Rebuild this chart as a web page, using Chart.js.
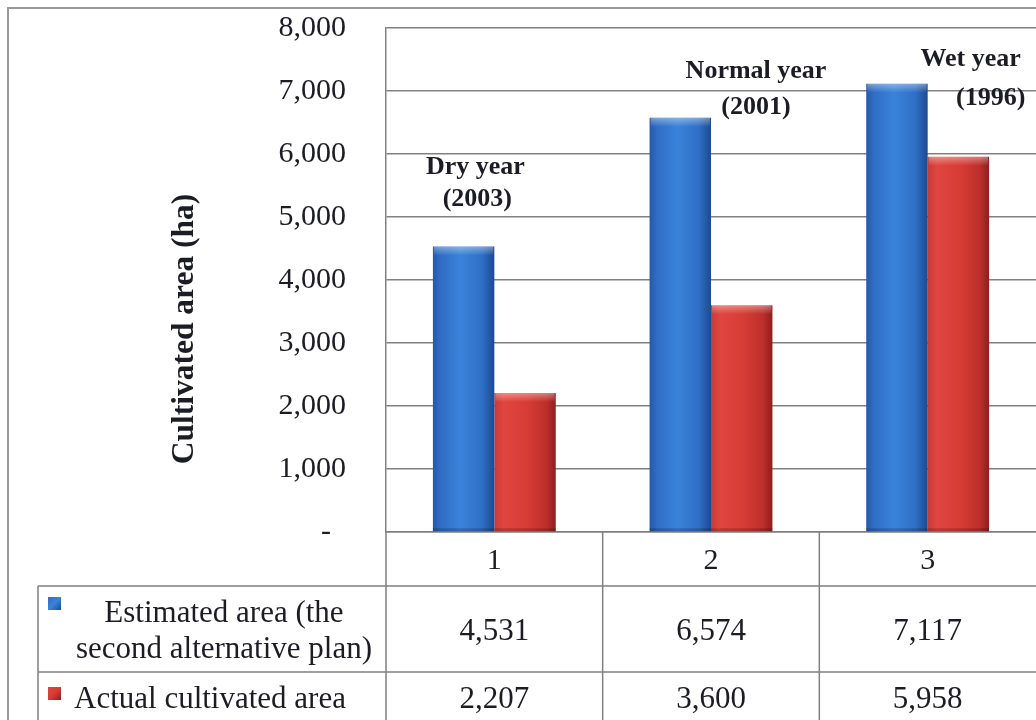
<!DOCTYPE html>
<html>
<head>
<meta charset="utf-8">
<title>Cultivated area</title>
<script src="https://cdn.jsdelivr.net/npm/chart.js@4.4.1/dist/chart.umd.min.js"></script>
<style>
  html, body { margin: 0; padding: 0; background: #ffffff; }
  #wrap { width: 1036px; height: 720px; position: relative; overflow: hidden; }
  canvas { display: block; }
</style>
</head>
<body>
<div id="wrap"><canvas id="chart" width="1036" height="720"></canvas></div>
<script>
// ---- data ----
const categories = ['1', '2', '3'];
const estimatedArea = [4531, 6574, 7117];
const actualArea = [2207, 3600, 5958];
const yTickValues = [0, 1000, 2000, 3000, 4000, 5000, 6000, 7000, 8000];
const seriesNames = [
  ['Estimated area (the', 'second alternative plan)'],
  ['Actual cultivated area']
];
const yearLabels = [
  ['Dry year', '(2003)'],
  ['Normal year', '(2001)'],
  ['Wet year', '(1996)']
];
const axisTitle = 'Cultivated area (ha)';

// ---- styling ----
const SERIF = '"Liberation Serif", "Times New Roman", serif';
const TEXT = '#1c1c24';
const LINE = '#808080';
const blueStops = [[0, '#2558a8'], [0.12, '#2f6dc4'], [0.45, '#3a83da'], [0.8, '#2f6fc6'], [1, '#1d4a90']];
const redStops = [[0, '#c83a38'], [0.15, '#e0463f'], [0.55, '#d63b34'], [0.85, '#bb2f2b'], [1, '#8c1f1f']];

function fmt(v) { return v.toLocaleString('en-US'); }

// horizontal shading across each bar, sized from the bar element itself
function barFill(stops) {
  return (ctx) => {
    const meta = ctx.chart.getDatasetMeta(ctx.datasetIndex);
    const el = meta && meta.data[ctx.dataIndex];
    if (!el || !isFinite(el.x) || !el.width) return stops[2][1];
    const g = ctx.chart.ctx.createLinearGradient(el.x - el.width / 2, 0, el.x + el.width / 2, 0);
    stops.forEach(([p, c]) => g.addColorStop(p, c));
    return g;
  };
}

const markerColors = [blueStops, redStops];

// frame, bevels, year notes, axis title and data table
const decorations = {
  id: 'decorations',
  beforeDraw(chart) {
    const c = chart.ctx;
    c.save();
    c.fillStyle = '#ffffff';
    c.fillRect(0, 0, chart.width, chart.height);
    c.strokeStyle = '#9a9a9a';
    c.lineWidth = 2;
    c.beginPath();
    c.moveTo(8, chart.height + 2);
    c.lineTo(8, 8);
    c.lineTo(chart.width + 2, 8);
    c.stroke();
    c.restore();
  },
  afterDatasetsDraw(chart) {
    const c = chart.ctx;
    c.save();
    chart.data.datasets.forEach((ds, di) => {
      chart.getDatasetMeta(di).data.forEach((el) => {
        const l = el.x - el.width / 2, w = el.width;
        const g = c.createLinearGradient(0, el.y, 0, el.y + 9);
        g.addColorStop(0, 'rgba(255,255,255,0.38)');
        g.addColorStop(1, 'rgba(255,255,255,0)');
        c.fillStyle = g;
        c.fillRect(l + 1, el.y, w - 2, 9);
        c.fillStyle = 'rgba(0,0,0,0.18)';
        c.fillRect(l, el.base - 3, w, 3);
      });
    });
    c.restore();
  },
  afterDraw(chart) {
    const c = chart.ctx;
    const area = chart.chartArea;
    const xs = chart.scales.x;
    const ys = chart.scales.y;
    const n = categories.length;
    const cw = (area.right - area.left) / n;
    c.save();

    // year notes above each group
    c.fillStyle = TEXT;
    c.textAlign = 'center';
    c.textBaseline = 'middle';
    c.font = 'bold 26px ' + SERIF;
    const noteOffsets = [[-19, 5790, -17, 5280], [45, 7310, 45, 6740], [43, 7500, 63, 6880]];
    yearLabels.forEach((lines, i) => {
      const cx = xs.getPixelForValue(i);
      const o = noteOffsets[i];
      c.fillText(lines[0], cx + o[0], ys.getPixelForValue(o[1]));
      c.fillText(lines[1], cx + o[2], ys.getPixelForValue(o[3]));
    });

    // rotated axis title
    c.save();
    c.translate(185, 329);
    c.rotate(-Math.PI / 2);
    c.font = 'bold 31.5px ' + SERIF;
    c.fillText(axisTitle, 0, 0);
    c.restore();

    // data table grid
    const legendLeft = 38;
    const rows = [area.bottom, 586, 672, chart.height + 4];
    c.strokeStyle = LINE;
    c.lineWidth = 1.5;
    c.beginPath();
    [rows[1], rows[2]].forEach((y) => { c.moveTo(legendLeft, y); c.lineTo(chart.width + 2, y); });
    c.moveTo(legendLeft, rows[1]); c.lineTo(legendLeft, rows[3]);
    c.moveTo(area.left, area.bottom); c.lineTo(area.left, rows[3]);
    for (let k = 1; k < n; k++) {
      const x = area.left + k * cw;
      c.moveTo(x, area.bottom); c.lineTo(x, rows[3]);
    }
    c.stroke();

    // table values
    c.fillStyle = TEXT;
    c.font = '31px ' + SERIF;
    const series = [estimatedArea, actualArea];
    const rowMid = [632, 700];
    series.forEach((vals, r) => {
      vals.forEach((v, i) => c.fillText(fmt(v), xs.getPixelForValue(i), rowMid[r]));
    });

    // legend cells
    const markerY = [597, 687];
    markerColors.forEach((stops, r) => {
      const g = c.createLinearGradient(48, markerY[r], 61, markerY[r] + 13);
      g.addColorStop(0, stops[1][1]);
      g.addColorStop(0.5, stops[2][1]);
      g.addColorStop(1, stops[4][1]);
      c.fillStyle = g;
      c.fillRect(48, markerY[r], 13, 13);
    });
    c.fillStyle = TEXT;
    c.textAlign = 'center';
    c.fillText(seriesNames[0][0], 224, 614);
    c.fillText(seriesNames[0][1], 224, 650);
    c.textAlign = 'left';
    c.fillText(seriesNames[1][0], 74, 700);
    c.restore();
  }
};

const chart = new Chart(document.getElementById('chart'), {
  type: 'bar',
  data: {
    labels: categories,
    datasets: [
      { label: seriesNames[0].join(' '), data: estimatedArea, backgroundColor: barFill(blueStops) },
      { label: seriesNames[1].join(' '), data: actualArea, backgroundColor: barFill(redStops) }
    ]
  },
  options: {
    responsive: false,
    animation: false,
    devicePixelRatio: 1,
    layout: { autoPadding: false, padding: { top: 28, left: 0, right: 0, bottom: 0 } },
    datasets: { bar: { barPercentage: 1, categoryPercentage: 0.567, borderWidth: 0 } },
    plugins: { legend: { display: false }, tooltip: { enabled: false } },
    scales: {
      x: {
        grid: { display: false },
        border: { display: true, color: LINE, width: 1.5 },
        ticks: { color: TEXT, font: { family: SERIF, size: 30 }, padding: 3 },
        afterFit(scale) { scale.height = 188; }
      },
      y: {
        min: 0,
        max: 8000,
        afterBuildTicks(scale) { scale.ticks = yTickValues.map((v) => ({ value: v })); },
        grid: { color: LINE, lineWidth: 1.5, drawTicks: false },
        border: { display: true, color: LINE, width: 1.5 },
        ticks: {
          color: TEXT,
          padding: 40,
          font: { family: SERIF, size: 30 },
          callback: (v) => (v === 0 ? '-  ' : fmt(v))
        },
        afterFit(scale) { scale.width = 386; scale.paddingTop = 0; scale.paddingBottom = 0; }
      }
    }
  },
  plugins: [decorations]
});
// second pass so the bar shading can read final bar geometry
chart.update('none');
</script>
</body>
</html>
